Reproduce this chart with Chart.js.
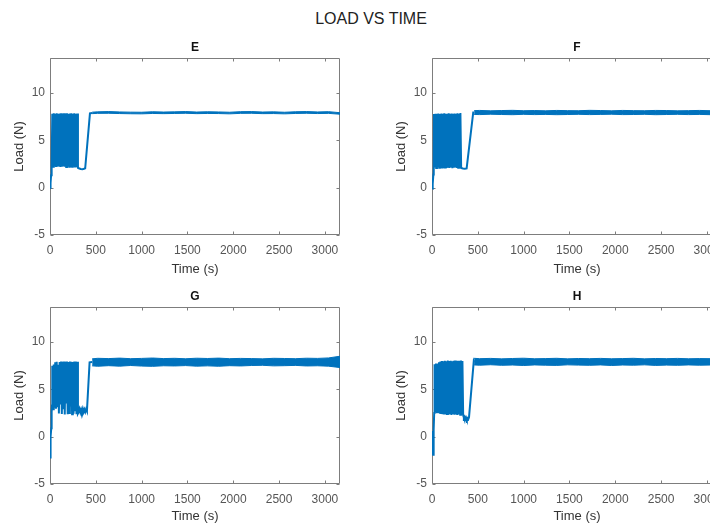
<!DOCTYPE html>
<html>
<head>
<meta charset="utf-8">
<title>Load vs Time</title>
<script src="https://cdn.jsdelivr.net/npm/chart.js@4.4.1/dist/chart.umd.min.js"></script>
<style>
  html, body { margin: 0; padding: 0; overflow: hidden; background: #fff; }
  body { width: 710px; height: 524px; position: relative; }
  #mainTitle {
    position: absolute; left: 0; top: 10px; width: 742px; line-height: 20px;
    text-align: center; font: 16px "Liberation Sans", Arial, sans-serif; color: #222;
  }
  canvas { position: absolute; }
</style>
</head>
<body>
<div id="mainTitle">LOAD VS TIME</div>
<canvas id="panelE" width="360" height="249" style="left:0px;top:36px"></canvas>
<canvas id="panelF" width="360" height="249" style="left:380px;top:36px"></canvas>
<canvas id="panelG" width="360" height="249" style="left:0px;top:285px"></canvas>
<canvas id="panelH" width="360" height="249" style="left:380px;top:285px"></canvas>
<script>
// Axis ticks
const xTicks = [0, 500, 1000, 1500, 2000, 2500, 3000];
const yTicks = [-5, 0, 5, 10];

// Start-up, cycling, hold and ramp phase of each specimen (time in s, load in N)
const timeE = [0, 6, 12, 18,
  25, 33, 41, 49, 57, 65, 73, 81, 89, 97, 105, 113, 121, 129, 137, 145, 153, 161,
  169, 177, 185, 193, 201, 209, 217, 225, 233, 241, 249, 257, 265, 273, 281, 289, 297, 305,
  314, 335, 355, 372, 384, 436, 460];
const loadE = [0.0, 0.5, 1.3, 2.2,
  7.80, 2.20, 7.85, 2.25, 7.82, 2.18, 7.86, 2.22, 7.80, 2.24, 7.84, 2.19, 7.87, 2.21,
  7.81, 2.23, 7.85, 2.20, 7.83, 2.18, 7.86, 2.24, 7.80, 2.21, 7.84, 2.19, 7.85, 2.22,
  7.82, 2.20, 7.86, 2.23, 7.81, 2.19, 7.84, 2.10,
  2.05, 1.98, 1.96, 2.00, 2.05, 7.85, 7.90];

const timeF = [0, 5, 10, 15, 19,
  22, 30, 38, 46, 54, 62, 70, 78, 86, 94, 102, 110, 118, 126, 134, 142, 150, 158, 166,
  174, 182, 190, 198, 206, 214, 222, 230, 238, 246, 254, 262, 270, 278, 286, 294, 302, 310,
  318, 338, 358, 378, 450, 460];
const loadF = [0.0, -0.05, 0.4, 1.4, 2.1,
  7.78, 2.12, 7.82, 2.08, 7.80, 2.15, 7.84, 2.10, 7.79, 2.06, 7.83, 2.12, 7.81, 2.09,
  7.85, 2.14, 7.80, 2.07, 7.82, 2.11, 7.86, 2.08, 7.81, 2.13, 7.83, 2.06, 7.80, 2.10,
  7.84, 2.12, 7.82, 2.08, 7.85, 2.11, 7.81, 2.09, 7.88,
  2.08, 2.02, 2.00, 2.04, 7.95, 7.95];

const timeG = [0, 3, 6, 10, 14, 18, 22,
  25, 33, 41, 49, 57, 65, 73, 81, 89, 97, 105, 113, 121, 129, 137, 145, 153, 161,
  169, 177, 185, 193, 201, 209, 217, 225, 233, 241, 249, 257, 265, 273, 281, 289, 297, 305,
  313, 322, 331, 340, 349, 358, 367, 376, 385, 394, 403, 432, 460];
const loadG = [-2.2, -1.2, 0.1, 0.0, 0.9, 2.6, 3.3,
  7.50, 2.90, 7.62, 3.05, 7.85, 2.95, 7.92, 3.10, 7.60, 2.45, 7.90, 3.40, 7.94, 2.40,
  7.88, 2.90, 7.93, 2.35, 7.91, 3.60, 7.95, 2.38, 7.89, 2.50, 7.94, 3.20, 7.92, 2.36,
  7.90, 2.42, 7.95, 2.80, 7.93, 2.38, 7.91, 2.45,
  2.60, 2.92, 2.58, 2.90, 2.62, 2.95, 2.60, 2.88, 2.62, 2.90, 2.70, 7.85, 7.88];

const timeH = [0, 4, 8, 12, 16, 20, 24,
  28, 36, 44, 52, 60, 68, 76, 84, 92, 100, 108, 116, 124, 132, 140, 148, 156, 164, 172,
  180, 188, 196, 204, 212, 220, 228, 236, 244, 252, 260, 268, 276, 284, 292, 300, 308,
  316, 324, 332,
  340, 348, 356, 364, 372, 380, 388, 396, 404, 456, 460];
const loadH = [0.6, -0.4, -1.6, -1.9, -1.2, 0.8, 2.5,
  7.65, 2.55, 7.72, 2.48, 7.70, 2.60, 7.85, 2.42, 7.95, 2.50, 8.00, 2.38, 7.98, 2.45,
  8.02, 2.35, 7.96, 2.40, 8.04, 2.33, 8.00, 2.38, 8.03, 2.30, 7.98, 2.36, 8.02, 2.32,
  8.05, 2.35, 8.00, 2.30, 8.03, 2.34, 8.01, 2.31, 8.04, 2.33, 8.00,
  2.25, 2.00, 2.12, 1.85, 2.02, 1.80, 1.95, 1.85, 2.05, 8.00, 7.92];

// Steady-state noise band: upper and lower envelope of the signal after the ramp
const bandTime = [460, 520, 640, 760, 880, 1000, 1120, 1240, 1360, 1480, 1600, 1720,
  1840, 1960, 2080, 2200, 2320, 2440, 2560, 2680, 2800, 2920, 3040, 3165];
const upperE = [7.98, 8.01, 8.04, 8.00, 7.98, 7.97, 8.02, 7.99, 8.01, 8.04, 7.99, 8.02,
  8.00, 7.97, 8.03, 8.04, 7.99, 8.01, 7.97, 8.02, 8.04, 8.00, 8.03, 7.92];
const lowerE = [7.82, 7.85, 7.86, 7.83, 7.81, 7.80, 7.84, 7.82, 7.84, 7.86, 7.82, 7.84,
  7.83, 7.80, 7.85, 7.86, 7.82, 7.83, 7.80, 7.84, 7.86, 7.83, 7.85, 7.76];
const upperF = [8.14, 8.16, 8.12, 8.15, 8.17, 8.13, 8.15, 8.12, 8.16, 8.14, 8.13, 8.17,
  8.15, 8.12, 8.16, 8.14, 8.13, 8.16, 8.15, 8.12, 8.14, 8.16, 8.13, 8.15];
const lowerF = [7.74, 7.72, 7.76, 7.73, 7.71, 7.75, 7.72, 7.74, 7.71, 7.73, 7.75, 7.72,
  7.74, 7.76, 7.72, 7.73, 7.75, 7.71, 7.73, 7.75, 7.72, 7.74, 7.71, 7.73];
const upperG = [8.22, 8.28, 8.25, 8.30, 8.24, 8.27, 8.31, 8.25, 8.28, 8.23, 8.29, 8.26,
  8.30, 8.24, 8.27, 8.25, 8.22, 8.28, 8.26, 8.24, 8.29, 8.27, 8.32, 8.50];
const lowerG = [7.48, 7.44, 7.50, 7.45, 7.52, 7.46, 7.43, 7.49, 7.47, 7.51, 7.45, 7.48,
  7.44, 7.50, 7.47, 7.52, 7.54, 7.48, 7.50, 7.53, 7.47, 7.49, 7.45, 7.30];
const upperH = [8.28, 8.24, 8.27, 8.22, 8.26, 8.29, 8.23, 8.25, 8.28, 8.22, 8.26, 8.24,
  8.27, 8.23, 8.25, 8.28, 8.22, 8.26, 8.24, 8.27, 8.23, 8.25, 8.24, 8.22];
const lowerH = [7.58, 7.55, 7.60, 7.54, 7.57, 7.52, 7.58, 7.55, 7.53, 7.59, 7.56, 7.54,
  7.58, 7.52, 7.57, 7.55, 7.59, 7.53, 7.56, 7.54, 7.58, 7.55, 7.57, 7.60];

const LINE = 'rgb(0,114,189)';
const FONT = '"Liberation Sans", Arial, sans-serif';

const toPoints = (xs, ys) => xs.map((x, i) => ({ x, y: ys[i] }));

// Axes box with inward tick marks on all four sides
const axesBox = {
  id: 'axesBox',
  beforeDatasetsDraw(chart) {
    const { ctx, chartArea: a, scales: { x, y } } = chart;
    const L = Math.round(a.left) + 0.5, R = Math.round(a.right) - 0.5;
    const T = Math.round(a.top) + 0.5, B = Math.round(a.bottom) - 0.5;
    ctx.save();
    ctx.strokeStyle = '#7d7d7d';
    ctx.lineWidth = 1;
    ctx.beginPath();
    ctx.rect(L, T, R - L, B - T);
    const len = 3;
    xTicks.forEach(v => {
      const px = Math.round(x.getPixelForValue(v)) + 0.5;
      ctx.moveTo(px, B); ctx.lineTo(px, B - len);
      ctx.moveTo(px, T); ctx.lineTo(px, T + len);
    });
    yTicks.forEach(v => {
      const py = Math.round(y.getPixelForValue(v)) + 0.5;
      ctx.moveTo(L, py); ctx.lineTo(L + len, py);
      ctx.moveTo(R, py); ctx.lineTo(R - len, py);
    });
    ctx.stroke();
    ctx.restore();
  }
};

function makePanel(id, title, time, load, upper, lower, axisWidth, yTitlePad, xTitlePad) {
  new Chart(document.getElementById(id), {
    type: 'line',
    data: {
      datasets: [
        { data: toPoints(time, load), borderColor: LINE, borderWidth: 2, pointRadius: 0, tension: 0, fill: false },
        { data: toPoints(bandTime, upper), borderColor: LINE, borderWidth: 1, pointRadius: 0, tension: 0,
          fill: '+1', backgroundColor: LINE },
        { data: toPoints(bandTime, lower), borderColor: LINE, borderWidth: 1, pointRadius: 0, tension: 0, fill: false }
      ]
    },
    options: {
      responsive: false,
      animation: false,
      events: [],
      layout: { padding: { left: 0, right: 360 - axisWidth - 290, top: 0, bottom: 0 } },
      plugins: {
        legend: { display: false },
        tooltip: { enabled: false },
        title: {
          display: true, text: title, fullSize: false,
          color: '#111', font: { family: FONT, size: 12, weight: 'bold' },
          padding: { top: 4.8, bottom: 2.8 }
        }
      },
      scales: {
        x: {
          type: 'linear', min: 0, max: 3165,
          afterBuildTicks: s => { s.ticks = xTicks.map(v => ({ value: v })); },
          afterFit: s => { s.height = 50; },
          grid: { display: false, drawTicks: false },
          border: { display: false },
          ticks: { maxRotation: 0, autoSkip: false, padding: 8, callback: v => String(v),
                   color: '#555', font: { family: FONT, size: 12 } },
          title: { display: true, text: 'Time (s)', color: '#333', font: { family: FONT, size: 13 },
                   padding: { top: 0, bottom: xTitlePad } }
        },
        y: {
          type: 'linear', min: -5, max: 13.7,
          afterBuildTicks: s => { s.ticks = yTicks.map(v => ({ value: v })); },
          afterFit: s => { s.width = axisWidth; },
          grid: { display: false, drawTicks: false },
          border: { display: false },
          ticks: { padding: 5, callback: v => String(v),
                   color: '#555', font: { family: FONT, size: 12 } },
          title: { display: true, text: 'Load (N)', color: '#333', font: { family: FONT, size: 13 },
                   padding: { top: yTitlePad, bottom: 0 } }
        }
      }
    },
    plugins: [axesBox]
  });
}

makePanel('panelE', 'E', timeE, loadE, upperE, lowerE, 50, 12, 8);
makePanel('panelF', 'F', timeF, loadF, upperF, lowerF, 52, 14, 8);
makePanel('panelG', 'G', timeG, loadG, upperG, lowerG, 50, 12, 10);
makePanel('panelH', 'H', timeH, loadH, upperH, lowerH, 52, 14, 10);
</script>
</body>
</html>
